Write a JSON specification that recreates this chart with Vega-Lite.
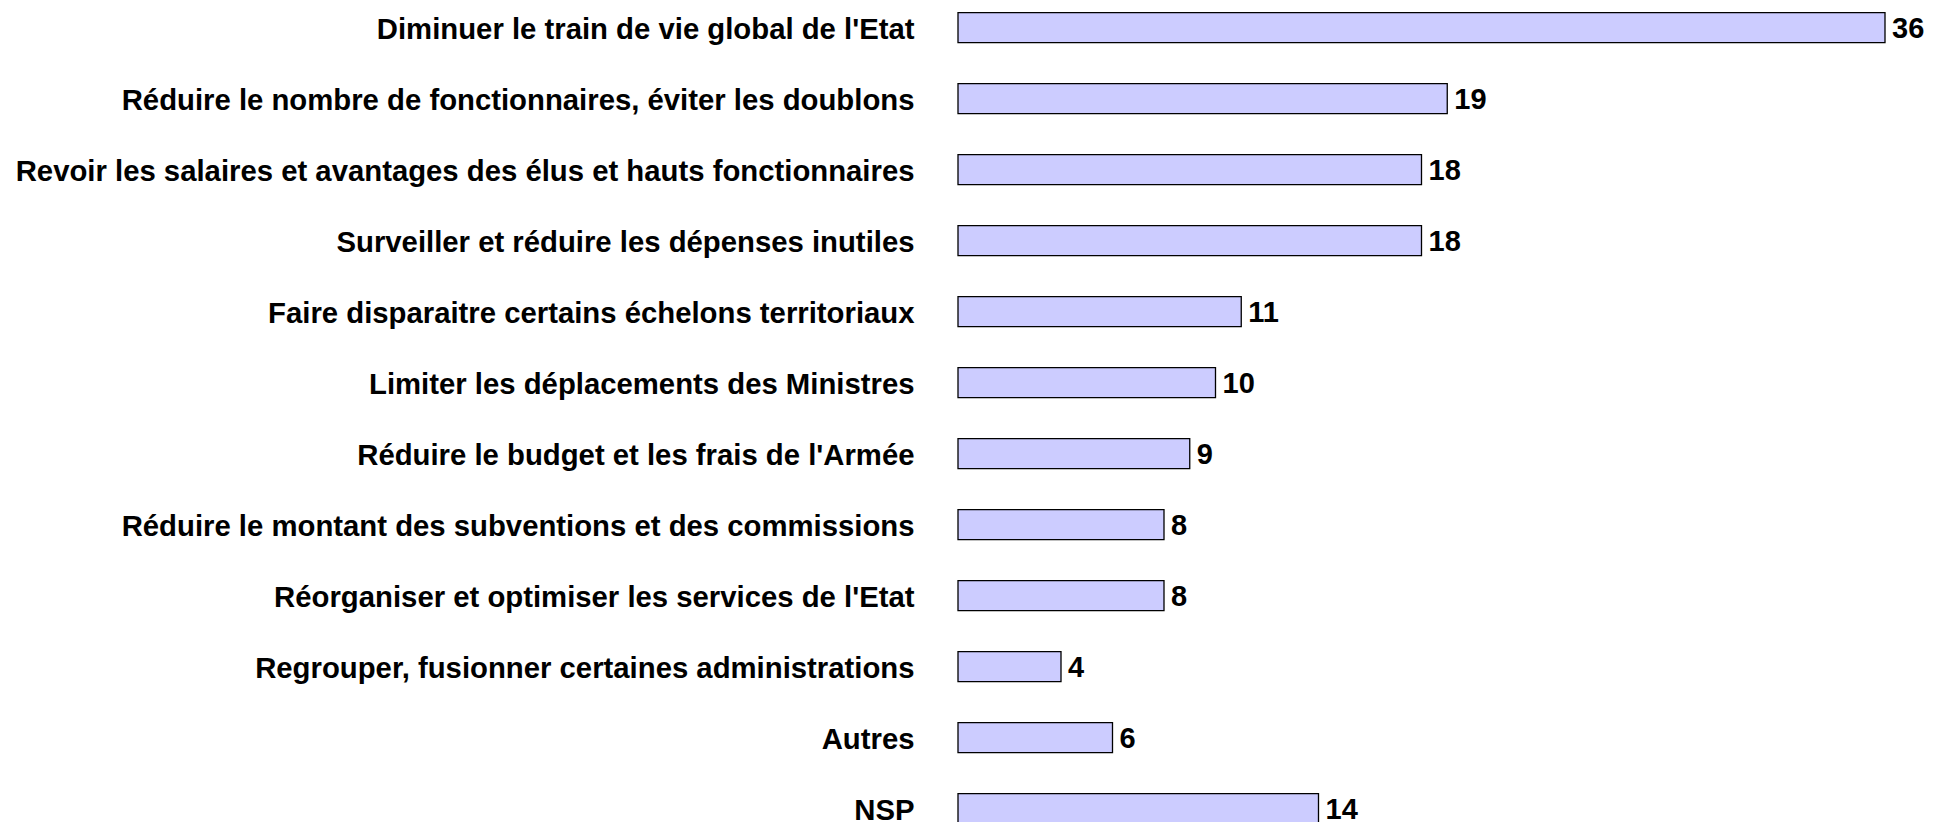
{
  "$schema": "https://vega.github.io/schema/vega-lite/v6.json",
  "autosize": {"type": "none"},
  "padding": {"left": 958, "top": 0, "right": 0, "bottom": 0},
  "width": 988,
  "height": 822,
  "background": "white",
  "config": {"view": {"stroke": null}},
  "data": {
    "values": [
      {"item": "Diminuer le train de vie global de l'Etat", "value": 36},
      {"item": "Réduire le nombre de fonctionnaires, éviter les doublons", "value": 19},
      {"item": "Revoir les salaires et avantages des élus et hauts fonctionnaires", "value": 18},
      {"item": "Surveiller et réduire les dépenses inutiles", "value": 18},
      {"item": "Faire disparaitre certains échelons territoriaux", "value": 11},
      {"item": "Limiter les déplacements des Ministres", "value": 10},
      {"item": "Réduire le budget et les frais de l'Armée", "value": 9},
      {"item": "Réduire le montant des subventions et des commissions", "value": 8},
      {"item": "Réorganiser et optimiser les services de l'Etat", "value": 8},
      {"item": "Regrouper, fusionner certaines administrations", "value": 4},
      {"item": "Autres", "value": 6},
      {"item": "NSP", "value": 14}
    ]
  },
  "encoding": {
    "y": {
      "field": "item",
      "type": "nominal",
      "sort": null,
      "scale": {"range": [-7.8, 844.2], "paddingInner": 0.5775, "paddingOuter": 0.28875},
      "axis": {
        "title": null,
        "domain": false,
        "ticks": false,
        "labelFont": "Liberation Sans",
        "labelFontWeight": "bold",
        "labelFontSize": 29.3,
        "labelColor": "#000000",
        "labelPadding": 44,
        "labelLimit": 0,
        "labelOffset": 2
      }
    },
    "x": {
      "field": "value",
      "type": "quantitative",
      "scale": {"domain": [0, 36], "range": [0, 927]},
      "axis": null
    }
  },
  "layer": [
    {
      "mark": {"type": "bar", "fill": "#CCCCFF", "stroke": "#000000", "strokeWidth": 1.3}
    },
    {
      "mark": {
        "type": "text",
        "align": "left",
        "baseline": "middle",
        "dx": 7,
        "dy": 1,
        "font": "Liberation Sans",
        "fontWeight": "bold",
        "fontSize": 29,
        "color": "#000000"
      },
      "encoding": {"text": {"field": "value", "type": "quantitative"}}
    }
  ]
}
